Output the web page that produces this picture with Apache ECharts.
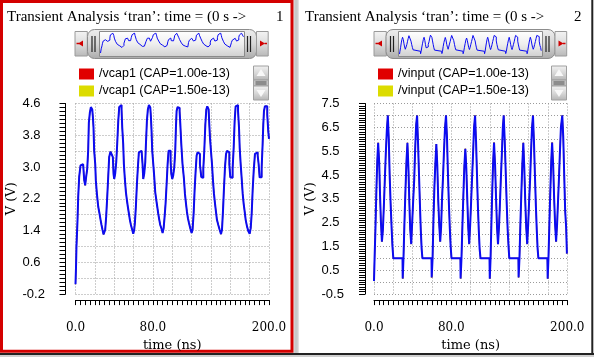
<!DOCTYPE html>
<html><head><meta charset="utf-8">
<script src="https://cdn.jsdelivr.net/npm/echarts@6/dist/echarts.min.js"></script>
<style>html,body{margin:0;padding:0;background:#fff}#c{width:594px;height:357px}</style>
</head><body><div id="c"></div><script>
// ---------- texts ----------
const titleText = 'Transient Analysis ‘tran’: time = (0 s ->';
const panelNums = ['1', '2'];
const legendLeft = ['/vcap1 (CAP=1.00e-13)', '/vcap1 (CAP=1.50e-13)'];
const legendRight = ['/vinput (CAP=1.00e-13)', '/vinput (CAP=1.50e-13)'];
const xName = 'time (ns)';
const yName = 'V (V)';
const xTickLabels = [0, 80, 200];
const yTickLabelsLeft = ['-0.2', '0.6', '1.4', '2.2', '3.0', '3.8', '4.6'];
const yTickLabelsRight = ['-0.5', '0.5', '1.5', '2.5', '3.5', '4.5', '5.5', '6.5', '7.5'];

// ---------- data: [time ns, volts] ----------
const vcap1 = [
[0,0.05],[0.5,0.45],[1.0,1.0],[2.1,1.67],[2.8,2.25],[3.8,2.75],[5.2,3.04],[6.9,3.07],[7.9,3.04],[9.0,2.67],
[10.0,2.54],[11.0,2.75],[12.1,2.95],[13.1,3.41],[13.8,4.12],[14.8,4.36],[15.9,4.51],[17.3,4.45],[17.9,4.28],[18.6,4.0],
[19.3,3.41],[20.4,3.07],[21.0,2.67],[22.1,2.33],[23.5,2.0],[24.8,1.83],[25.9,1.67],[26.9,1.54],[27.9,1.42],[29.0,1.30],
[30.0,1.27],[30.7,1.42],[31.7,1.75],[32.8,2.25],[33.8,2.75],[34.8,3.25],[36.2,3.39],[37.9,3.39],[38.6,3.25],[39.3,2.83],
[40.0,2.70],[41.0,2.83],[42.1,3.12],[43.1,3.58],[44.2,4.16],[45.2,4.51],[46.6,4.56],[47.6,4.45],[48.3,4.0],[49.3,3.58],
[50.0,3.08],[51.0,2.70],[52.1,2.37],[53.1,2.17],[54.1,2.0],[55.2,1.83],[56.2,1.67],[57.3,1.54],[58.6,1.42],[59.7,1.32],
[60.7,1.42],[61.4,1.6],[62.4,2.0],[63.5,2.58],[64.5,3.0],[65.5,3.37],[66.9,3.41],[68.3,3.37],[69.3,3.07],[70.0,2.70],
[71.0,2.83],[72.1,3.12],[72.8,3.58],[73.8,4.16],[74.8,4.45],[75.9,4.56],[77.3,4.5],[77.9,4.28],[78.6,3.91],[79.3,3.41],
[80.4,3.07],[81.4,2.75],[82.4,2.37],[83.5,2.17],[84.5,2.0],[85.5,1.83],[86.6,1.67],[87.6,1.54],[89.0,1.44],[90.0,1.34],
[91.1,1.46],[92.1,1.75],[93.1,2.08],[94.2,2.58],[95.2,3.07],[96.2,3.41],[97.3,3.41],[98.3,3.16],[99.0,2.83],[100.0,2.70],
[101.0,2.79],[102.1,3.0],[103.1,3.41],[103.8,3.99],[104.5,4.41],[105.5,4.51],[106.6,4.49],[107.6,4.41],[108.3,4.1],[109.3,3.6],
[110.6,3.08],[112.1,2.70],[113.1,2.33],[114.2,2.08],[115.2,1.87],[116.2,1.71],[117.3,1.59],[118.6,1.46],[120.0,1.34],[121.0,1.42],
[122.1,1.83],[123.1,2.41],[124.2,2.91],[125.2,3.29],[126.2,3.37],[127.6,3.33],[128.6,3.07],[130.0,2.75],[131.0,2.73],[132.1,2.96],
[133.1,3.41],[134.2,4.07],[135.2,4.45],[136.2,4.53],[137.6,4.45],[138.3,4.07],[139.0,3.74],[140.0,3.41],[141.1,3.07],[142.1,2.66],
[143.1,2.33],[144.2,2.08],[145.2,1.87],[146.2,1.67],[147.6,1.54],[149.0,1.42],[150.4,1.31],[151.4,1.42],[152.4,1.87],[153.5,2.49],
[154.5,2.99],[155.6,3.33],[156.6,3.41],[158.0,3.37],[159.0,3.07],[160.0,2.74],[161.4,2.73],[162.4,2.96],[163.5,3.49],[164.5,4.16],
[165.5,4.53],[166.6,4.56],[168.0,4.41],[169.0,3.99],[169.7,3.49],[170.7,3.08],[171.8,2.70],[172.8,2.33],[173.8,2.08],[174.9,1.87],
[175.9,1.67],[177.3,1.50],[178.7,1.38],[180.0,1.32],[181.1,1.46],[182.1,1.83],[183.1,2.41],[184.2,2.91],[185.5,3.33],[186.9,3.37],
[188.3,3.29],[189.3,3.07],[190.3,2.74],[191.4,2.74],[192.4,2.98],[193.4,3.57],[194.1,4.07],[194.8,4.41],[195.8,4.53],[197.2,4.53],
[198.2,4.32],[199.2,3.91],[200.0,3.71]
];
const vinput = [
[0.0,0.05],[0.6,1.0],[1.6,2.4],[2.5,3.9],[3.4,5.1],[4.3,5.85],[5.4,5.0],[6.3,3.6],[7.2,2.5],[8.2,1.7],[9.2,2.2],[10.3,3.3],[11.2,4.3],[12.2,5.4],[13.3,6.4],[14.3,7.0],[15.3,6.0],[16.2,4.5],[17.2,3.3],[18.2,2.3],[19.1,1.5],[20.0,1.0],[29.5,1.0],
[29.7,0.15],[30.5,1.0],[31.5,2.5],[32.5,3.8],[33.6,5.1],[34.6,5.85],[35.7,4.7],[36.6,3.3],[37.5,2.2],[38.5,1.6],[39.5,2.5],[40.5,3.4],[41.6,4.3],[42.6,5.6],[43.6,6.6],[44.6,7.0],[45.6,5.8],[46.5,4.6],[47.5,3.3],[48.4,2.2],[49.3,1.4],[50.1,1.0],[59.5,1.0],
[59.7,0.2],[60.6,1.0],[61.5,2.6],[62.5,4.0],[63.5,5.0],[64.5,5.8],[65.5,4.9],[66.5,3.4],[67.5,2.4],[68.5,1.7],[69.4,2.3],[70.4,3.5],[71.4,4.4],[72.4,5.5],[73.5,6.5],[74.5,7.0],[75.5,6.1],[76.4,4.7],[77.4,3.4],[78.4,2.3],[79.3,1.5],[80.2,1.0],[89.4,1.0],
[89.6,0.15],[90.5,1.0],[91.5,2.4],[92.5,3.7],[93.5,4.9],[94.5,5.6],[95.5,4.8],[96.5,3.5],[97.5,2.3],[98.5,1.6],[99.5,2.4],[100.5,3.4],[101.5,4.4],[102.5,5.4],[103.5,6.5],[104.6,7.0],[105.6,5.9],[106.5,4.6],[107.5,3.2],[108.4,2.2],[109.3,1.4],[110.2,1.0],[119.5,1.0],
[119.8,0.15],[120.6,1.0],[121.5,2.5],[122.4,3.9],[123.3,5.1],[124.2,5.86],[125.3,4.9],[126.3,3.5],[127.3,2.3],[128.3,1.6],[129.3,2.3],[130.3,3.3],[131.3,4.4],[132.3,5.4],[133.3,6.5],[134.2,7.0],[135.2,6.0],[136.3,4.6],[137.3,3.3],[138.3,2.2],[139.2,1.5],[140.0,1.0],[149.4,1.0],
[149.6,0.2],[150.5,1.0],[151.5,2.5],[152.5,3.8],[153.5,5.0],[154.5,5.85],[155.5,4.8],[156.5,3.4],[157.5,2.3],[158.5,1.6],[159.5,2.4],[160.5,3.4],[161.5,4.3],[162.5,5.5],[163.5,6.5],[164.5,7.0],[165.5,5.9],[166.5,4.5],[167.5,3.2],[168.4,2.2],[169.3,1.4],[170.1,1.0],[179.4,1.0],
[179.7,0.15],[180.5,1.0],[181.5,2.5],[182.5,3.9],[183.4,5.1],[184.3,5.86],[185.4,4.9],[186.4,3.5],[187.4,2.4],[188.4,1.7],[189.4,2.4],[190.4,3.4],[191.4,4.4],[192.4,5.5],[193.4,6.5],[194.8,7.0],[195.8,6.1],[196.8,4.5],[197.8,3.0],[198.8,2.3],[199.6,1.2]
];

// ---------- styles ----------
const BLUE = '#0b0bf2', RED = '#e00000', YEL = '#dcdc00';
const GRIDC = '#9a9a9a';
const serif = 'DejaVu Serif', sans = 'Liberation Sans';

const chart = echarts.init(document.getElementById('c'), null, {renderer: 'canvas'});

function dataX(gi) {
  return {type: 'value', gridIndex: gi, min: 0, max: 200, interval: 20,
    axisLine: {show: false}, axisTick: {show: false}, axisLabel: {show: false},
    splitLine: {show: true, lineStyle: {color: GRIDC, type: [1, 2], width: 1}}};
}
function tickX(gi) {
  return {type: 'value', gridIndex: gi, min: 0, max: 200, interval: 5, position: 'bottom', offset: 6,
    axisLine: {show: true, onZero: false, lineStyle: {color: '#000', width: 1}},
    axisTick: {show: true, length: 5, lineStyle: {color: '#000'}},
    axisLabel: {show: true, margin: 22, fontFamily: serif, fontSize: 12, color: '#000',
      formatter: v => xTickLabels.includes(Math.round(v)) ? Number(v).toFixed(1) : ''},
    splitLine: {show: false},
    name: xName, nameLocation: 'middle', nameGap: 38,
    nameTextStyle: {fontFamily: serif, fontSize: 13, color: '#000'}};
}
function hiddenAxis(gi, min, max) {
  return {type: 'value', gridIndex: gi, min: min, max: max, show: false};
}
function splitY(gi, min, max, interval) {
  return {type: 'value', gridIndex: gi, min: min, max: max, interval: interval,
    axisLine: {show: false}, axisTick: {show: false}, axisLabel: {show: false},
    splitLine: {show: true, lineStyle: {color: GRIDC, type: [1, 2], width: 1}}};
}
function tickY(gi, max, interval, minorSplit, labels, offset, margin) {
  return {type: 'value', gridIndex: gi, min: 0, max: max, interval: interval, position: 'left', offset: offset,
    axisLine: {show: true, onZero: false, lineStyle: {color: '#000', width: 1}},
    axisTick: {show: true, length: 6, lineStyle: {color: '#000'}},
    minorTick: {show: true, splitNumber: minorSplit, length: 6, lineStyle: {color: '#000'}},
    axisLabel: {show: true, margin: margin, align: 'left', fontFamily: sans, fontSize: 13, color: '#000',
      formatter: v => labels[Math.round(v / interval)]},
    splitLine: {show: false},
    name: yName, nameLocation: 'middle', nameGap: 47, nameRotate: 90,
    nameTextStyle: {fontFamily: serif, fontSize: 13, color: '#000'}};
}
function wave(name, data, color, xi, yi, w, z) {
  return {type: 'line', name: name, data: data, xAxisIndex: xi, yAxisIndex: yi, step: 'end',
    showSymbol: false, symbol: 'none', animation: false, silent: true, z: z,
    lineStyle: {color: color, width: w}, itemStyle: {color: color}};
}

// ---------- graphic decorations ----------
const G = [];
function rect(x, y, w, h, fill, stroke, lw, r) {
  G.push({type: 'rect', shape: {x: x, y: y, width: w, height: h, r: r || 0},
    style: {fill: fill || 'none', stroke: stroke || 'none', lineWidth: lw || 1}, silent: true});
}
function line(x1, y1, x2, y2, c, lw) {
  G.push({type: 'line', shape: {x1: x1, y1: y1, x2: x2, y2: y2}, style: {stroke: c, lineWidth: lw || 1}, silent: true});
}
function poly(pts, fill) {
  G.push({type: 'polygon', shape: {points: pts}, style: {fill: fill}, silent: true});
}
function text(s, x, y, font, align) {
  G.push({type: 'text', style: {text: s, x: x, y: y, font: font, fill: '#000', align: align || 'left', verticalAlign: 'middle'}, silent: true});
}
const vgrad = (a, b, c) => ({type: 'linear', x: 0, y: 0, x2: 0, y2: 1,
  colorStops: [{offset: 0, color: a}, {offset: 0.5, color: b}, {offset: 1, color: c}]});

// frame pieces
rect(293, 0, 5, 357, '#c8c8c8');
rect(293, 0, 1.3, 357, '#ececec');
rect(297.7, 0, 1.3, 357, '#e2e2e2');
rect(0, 353, 594, 4, '#cfcfcf');
line(0, 354, 594, 354, '#222', 2);
line(592.3, 0, 592.3, 355, '#222', 2);
rect(1.5, 1.5, 290.5, 349.7, null, '#d40000', 3);

function slider(bx, px, pw, tx, tw, g1, g2, rbx) {
  rect(bx, 31.5, 12.3, 24.5, vgrad('#f4f4f4', '#dcdcdc', '#b8b8b8'), '#9a9a9a', 1);
  poly([[bx + 3, 43.5], [bx + 8, 40.5], [bx + 8, 46.5]], '#d00000');
  line(bx + 1.5, 43.5, bx + 4, 43.5, '#d00000', 1.5);
  rect(px, 29.5, pw, 29, vgrad('#eeeeee', '#d6d6d6', '#aaaaaa'), '#8c8c8c', 1, 7);
  rect(tx, 31.5, tw, 25, vgrad('#ffffff', '#eeeeee', '#cfcfcf'), '#8a8a8a', 1);
  line(g1, 36, g1, 52, '#222', 1.2); line(g1 + 3, 36, g1 + 3, 52, '#222', 1.2);
  line(g2, 36, g2, 52, '#222', 1.2); line(g2 + 3, 36, g2 + 3, 52, '#222', 1.2);
  rect(rbx, 31.5, 11.7, 24.5, vgrad('#f4f4f4', '#dcdcdc', '#b8b8b8'), '#9a9a9a', 1);
  poly([[rbx + 8.5, 43.5], [rbx + 3.5, 40.5], [rbx + 3.5, 46.5]], '#d00000');
  line(rbx + 8, 43.5, rbx + 10.5, 43.5, '#d00000', 1.5);
}
slider(75, 87.5, 169, 99.5, 145, 92, 247.5, 256.5);
slider(374, 386, 169, 398.5, 144, 390.5, 546, 555);

function scroller(x) {
  rect(x, 66, 15, 14, vgrad('#f2f2f2', '#d8d8d8', '#b4b4b4'), '#a0a0a0', 1);
  poly([[x + 7.5, 69], [x + 3, 76], [x + 12, 76]], '#f8f8f8');
  rect(x, 80, 15, 6, '#c4c4c4', '#a0a0a0', 1);
  line(x + 2, 82, x + 13, 82, '#555', 1); line(x + 2, 84, x + 13, 84, '#555', 1);
  rect(x, 86, 15, 14, vgrad('#f2f2f2', '#d8d8d8', '#b4b4b4'), '#a0a0a0', 1);
  poly([[x + 7.5, 97], [x + 3, 90], [x + 12, 90]], '#f8f8f8');
}
scroller(253.5);
scroller(551.5);

const titleFont = '15px "Liberation Serif"';
text(titleText, 7, 17.5, titleFont);
text(titleText, 305, 17.5, titleFont);
text(panelNums[0], 283.5, 17.5, titleFont, 'right');
text(panelNums[1], 581.5, 17.5, titleFont, 'right');

const legendStyle = {orient: 'vertical', itemWidth: 15, itemHeight: 11, itemGap: 4, icon: 'rect',
  selectedMode: false, textStyle: {fontFamily: sans, fontSize: 12.5, color: '#000'}, padding: 0};

const option = {
  backgroundColor: '#ffffff',
  animation: false,
  grid: [
    {left: 75.5, top: 103.5, width: 193.5, height: 193},
    {left: 374, top: 103.5, width: 193.3, height: 193},
    {left: 100.5, top: 33, width: 143, height: 20},
    {left: 399.5, top: 34, width: 142, height: 20}
  ],
  xAxis: [dataX(0), tickX(0), dataX(1), tickX(1), hiddenAxis(2, 0, 200), hiddenAxis(3, 0, 200)],
  yAxis: [
    hiddenAxis(0, -0.2, 4.6),
    splitY(0, 0, 4.8, 0.4),
    tickY(0, 4.8, 0.8, 8, yTickLabelsLeft, 10, 43),
    splitY(1, -0.5, 7.5, 0.5),
    tickY(1, 8, 1, 10, yTickLabelsRight, 9, 43.5),
    {type: 'value', gridIndex: 2, min: 'dataMin', max: 'dataMax', show: false},
    {type: 'value', gridIndex: 3, min: 'dataMin', max: 'dataMax', show: false}
  ],
  legend: [
    Object.assign({data: legendLeft, left: 79, top: 67.5}, legendStyle),
    Object.assign({data: legendRight, left: 378, top: 67.5}, legendStyle)
  ],
  graphic: {elements: G},
  series: [
    wave(legendLeft[0], vcap1, RED, 0, 0, 1, 2),
    wave(legendLeft[1], vcap1, YEL, 0, 0, 1, 3),
    wave('/vcap1', vcap1, BLUE, 0, 0, 2, 4),
    wave(legendRight[0], vinput, RED, 2, 3, 1, 2),
    wave(legendRight[1], vinput, YEL, 2, 3, 1, 3),
    wave('/vinput', vinput, BLUE, 2, 3, 2, 4),
    wave('/vcap1 overview', vcap1, BLUE, 4, 5, 1, 4),
    wave('/vinput overview', vinput, BLUE, 5, 6, 1, 4)
  ]
};
chart.setOption(option);
</script></body></html>
